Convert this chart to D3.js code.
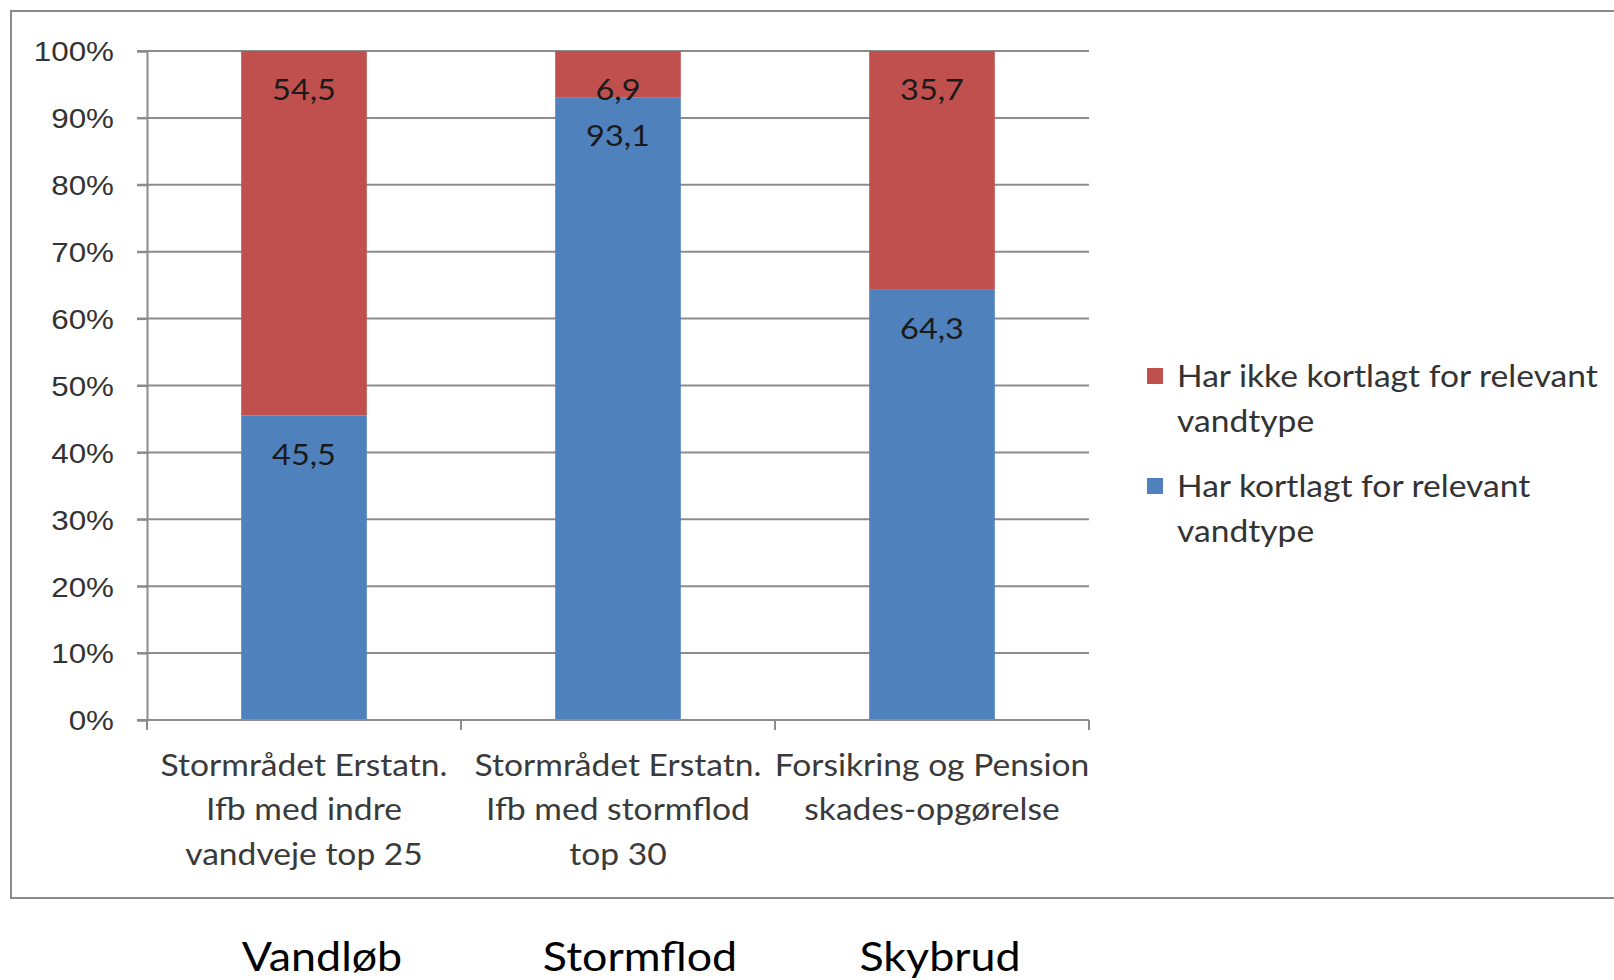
<!DOCTYPE html>
<html>
<head>
<meta charset="utf-8">
<script src="https://cdn.jsdelivr.net/npm/d3@7"></script>
<style>
  body { margin: 0; background: #fff; }
  svg { display: block; font-family: Lato, "Open Sans", sans-serif; }
</style>
</head>
<body>
<div id="plot"></div>
<script>
// data
const categories = ["Vandløb", "Stormflod", "Skybrud"];
const categoryLabels = [
  ["Stormrådet Erstatn.", "Ifb med indre", "vandveje top 25"],
  ["Stormrådet Erstatn.", "Ifb med stormflod", "top 30"],
  ["Forsikring og Pension", "skades-opgørelse"]
];
const kortlagt = [45.5, 93.1, 64.3];
const ikkeKortlagt = [54.5, 6.9, 35.7];
const seriesNames = ["Har kortlagt for relevant vandtype", "Har ikke kortlagt for relevant vandtype"];
const yTicks = [0, 10, 20, 30, 40, 50, 60, 70, 80, 90, 100];

const colors = { kortlagt: "#4F81BD", ikke: "#C0504D" };

const width = 1614, height = 980;
const margin = { top: 51, left: 147, right: 1614 - 1089, bottom: 980 - 720 };
const innerW = width - margin.left - margin.right;
const innerH = height - margin.top - margin.bottom;

// text is a bit wider than Lato in the original, stretch it sideways
const stretch = 1.12;

const svg = d3.select("#plot").append("svg")
  .attr("width", width)
  .attr("height", height);

// outer frame of the chart area
svg.append("rect")
  .attr("x", 11).attr("y", 11)
  .attr("width", width + 20).attr("height", 887)
  .attr("fill", "none")
  .attr("stroke", "#8a8a8a")
  .attr("stroke-width", 2);

const g = svg.append("g").attr("transform", `translate(${margin.left},${margin.top})`);

const x = d3.scaleBand()
  .domain(categories)
  .range([0, innerW])
  .paddingInner(0.6)
  .paddingOuter(0.3);

const y = d3.scaleLinear().domain([0, 100]).range([innerH, 0]);

// helper: text drawn at (cx, cy) with horizontal stretch
function stretchedText(parent, cx, cy) {
  return parent.append("g")
    .attr("transform", `translate(${cx},${cy}) scale(${stretch},1)`)
    .append("text");
}

// gridlines
g.append("g")
  .selectAll("line")
  .data(yTicks)
  .join("line")
  .attr("x1", -10).attr("x2", innerW)
  .attr("y1", d => y(d)).attr("y2", d => y(d))
  .attr("stroke", "#8c8c8c")
  .attr("stroke-width", 2);

// y axis
const yAxis = g.append("g")
  .call(d3.axisLeft(y).tickValues(yTicks).tickFormat(d => d + "%").tickSize(10).tickPadding(24));
yAxis.select(".domain").attr("stroke", "#8c8c8c").attr("stroke-width", 2);
yAxis.selectAll(".tick line").attr("stroke", "#8c8c8c").attr("stroke-width", 2);
yAxis.selectAll(".tick text").remove();
yAxis.selectAll(".tick").each(function(d) {
  stretchedText(d3.select(this), -33, 0)
    .attr("text-anchor", "end")
    .attr("dy", "0.35em")
    .attr("font-size", 28)
    .attr("fill", "#333")
    .text(d + "%");
});

// stacked bars
const rows = categories.map((c, i) => ({ cat: c, kortlagt: kortlagt[i], ikke: ikkeKortlagt[i] }));
const stack = d3.stack().keys(["kortlagt", "ikke"]);
const layers = stack(rows);

const layer = g.selectAll(".layer")
  .data(layers)
  .join("g")
  .attr("class", "layer")
  .attr("fill", d => colors[d.key]);

layer.selectAll("rect")
  .data(d => d)
  .join("rect")
  .attr("x", d => x(d.data.cat))
  .attr("width", x.bandwidth())
  .attr("y", d => y(d[1]))
  .attr("height", d => y(d[0]) - y(d[1]));

// value labels, inside end of each segment
layers.forEach(l => {
  l.forEach(v => {
    stretchedText(g, x(v.data.cat) + x.bandwidth() / 2, y(v[1]) + 39)
      .attr("dy", "0.35em")
      .attr("text-anchor", "middle")
      .attr("font-size", 29)
      .attr("fill", "#1a1a1a")
      .text(String(v.data[l.key]).replace(".", ","));
  });
});

// x axis
const xAxisScale = d3.scalePoint().domain(d3.range(categories.length + 1)).range([0, innerW]);
const xAxis = g.append("g").attr("transform", `translate(0,${innerH})`);
xAxis.append("line")
  .attr("x1", 0).attr("x2", innerW)
  .attr("stroke", "#8c8c8c").attr("stroke-width", 2);
xAxis.selectAll(".xt")
  .data(xAxisScale.domain())
  .join("line")
  .attr("class", "xt")
  .attr("x1", d => xAxisScale(d)).attr("x2", d => xAxisScale(d))
  .attr("y1", 0).attr("y2", 10)
  .attr("stroke", "#8c8c8c").attr("stroke-width", 2);

// category labels (multi-line)
categories.forEach((c, i) => {
  const t = stretchedText(xAxis, x(c) + x.bandwidth() / 2, 45)
    .attr("text-anchor", "middle")
    .attr("font-size", 30)
    .attr("fill", "#3a3a3a");
  categoryLabels[i].forEach((line, j) => {
    t.append("tspan")
      .attr("x", 0)
      .attr("dy", j === 0 ? "0.35em" : 45)
      .text(line);
  });
});

// group names below the frame
categories.forEach((c, i) => {
  stretchedText(svg, [322, 640, 940][i], 957)
    .attr("dy", "0.35em")
    .attr("text-anchor", "middle")
    .attr("font-size", 40)
    .attr("fill", "#000")
    .text(c);
});

// legend
const legendItems = [
  { name: seriesNames[1], color: colors.ikke },
  { name: seriesNames[0], color: colors.kortlagt }
];
const legend = svg.append("g").attr("transform", "translate(1147,376)");
legendItems.forEach((item, i) => {
  const row = legend.append("g").attr("transform", `translate(0,${i * 110})`);
  row.append("rect")
    .attr("x", 0).attr("y", -8)
    .attr("width", 16).attr("height", 16)
    .attr("fill", item.color);
  const words = item.name.split(" ");
  const first = words.slice(0, -1).join(" ");
  const last = words[words.length - 1];
  const t = stretchedText(row, 30, 0)
    .attr("font-size", 30)
    .attr("fill", "#333");
  t.append("tspan").attr("x", 0).attr("y", 0).attr("dy", "0.35em").text(first);
  t.append("tspan").attr("x", 0).attr("y", 46).attr("dy", "0.35em").text(last);
});
</script>
</body>
</html>
